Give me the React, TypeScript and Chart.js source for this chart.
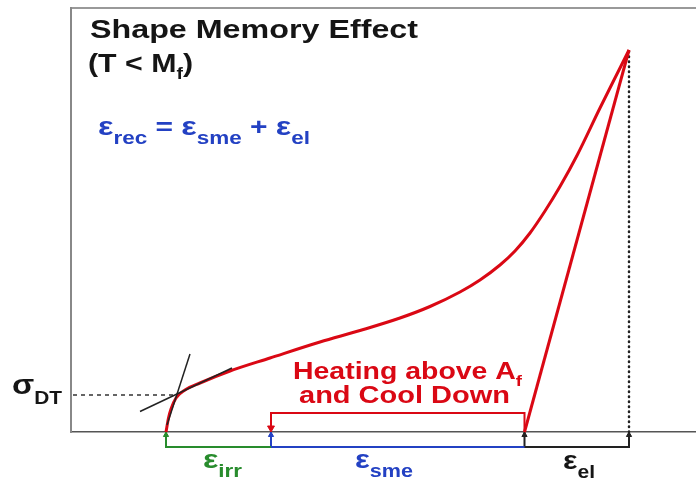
import React, { useEffect, useRef } from "react";
import { Chart, registerables } from "chart.js";

Chart.register(...registerables);

// ---- data (strain %, stress MPa) ----
const loadStrain = [0.95, 0.975, 1.0, 1.05, 1.14, 1.29, 1.59, 1.99, 2.49, 2.89, 3.29, 3.59, 3.89, 4.09, 4.29, 4.44, 4.59, 4.74, 4.89, 5.06, 5.29, 5.49, 5.58];
const loadStress = [0, 28, 46, 68, 84, 98, 122, 148, 180, 203, 228, 251, 280, 304, 334, 362, 398, 442, 491, 553, 648, 728, 764];
const unloadStrain = [5.58, 4.535];
const unloadStress = [764, 0];
const tangentSteepStrain = [1.19, 0.96];
const tangentSteepStress = [156, 14];
const tangentShallowStrain = [0.69, 1.61];
const tangentShallowStress = [41, 128];
const sigmaDT = 74;
const strainIrrStart = 0.95;
const strainSmeStart = 2.0;
const strainElStart = 4.535;
const strainMax = 5.58;
const stressMax = 764;
const bracketLevel = -30;
const heatLevel = 38;

const titleText = "Shape Memory Effect";
const subTitleParts = ["(T < M", "f", ")"];
const eqParts = ["ε", "rec", " = ", "ε", "sme", " + ", "ε", "el"];
const sigmaParts = ["σ", "DT"];
const heatParts = ["Heating above A", "f"];
const coolText = "and Cool Down";
const irrParts = ["ε", "irr"];
const smeParts = ["ε", "sme"];
const elParts = ["ε", "el"];

const RED = "rgb(218,8,20)";
const BLUE = "rgb(35,65,195)";
const GREEN = "rgb(40,140,45)";
const BLACK = "#151515";

const pts = (xs: number[], ys: number[]) => xs.map((x, i) => ({ x, y: ys[i] }));

type Seg = { t: string; s: number; dy?: number };
type Ann = { segs: Seg[]; color: string; x0: number; x1: number; y: number };

const annotations: Ann[] = [
  { segs: [{ t: titleText, s: 25 }], color: BLACK, x0: 0.19, x1: 3.47, y: 789 },
  {
    segs: [
      { t: subTitleParts[0], s: 25 },
      { t: subTitleParts[1], s: 16, dy: 7 },
      { t: subTitleParts[2], s: 25 },
    ],
    color: BLACK, x0: 0.17, x1: 1.22, y: 720,
  },
  {
    segs: [
      { t: eqParts[0], s: 26 }, { t: eqParts[1], s: 18, dy: 9 },
      { t: eqParts[2], s: 24 },
      { t: eqParts[3], s: 26 }, { t: eqParts[4], s: 18, dy: 9 },
      { t: eqParts[5], s: 24 },
      { t: eqParts[6], s: 26 }, { t: eqParts[7], s: 18, dy: 9 },
    ],
    color: BLUE, x0: 0.27, x1: 2.39, y: 594,
  },
  { segs: [{ t: sigmaParts[0], s: 28 }, { t: sigmaParts[1], s: 18, dy: 10 }], color: BLACK, x0: -0.59, x1: -0.09, y: 76 },
  { segs: [{ t: heatParts[0], s: 23 }, { t: heatParts[1], s: 15, dy: 7 }], color: RED, x0: 2.22, x1: 4.51, y: 106 },
  { segs: [{ t: coolText, s: 23 }], color: RED, x0: 2.28, x1: 4.39, y: 58 },
  { segs: [{ t: irrParts[0], s: 26 }, { t: irrParts[1], s: 18, dy: 9 }], color: GREEN, x0: 1.32, x1: 1.71, y: -72 },
  { segs: [{ t: smeParts[0], s: 26 }, { t: smeParts[1], s: 18, dy: 9 }], color: BLUE, x0: 2.84, x1: 3.42, y: -72 },
  { segs: [{ t: elParts[0], s: 26 }, { t: elParts[1], s: 18, dy: 9 }], color: BLACK, x0: 4.92, x1: 5.24, y: -74 },
];

const FONT = '"Liberation Sans", Arial, sans-serif';

const textPlugin = {
  id: "richText",
  afterDatasetsDraw(chart: any) {
    const ctx = chart.ctx as CanvasRenderingContext2D;
    const xs = chart.scales.x;
    const ys = chart.scales.y;
    for (const a of annotations) {
      const left = xs.getPixelForValue(a.x0);
      const right = xs.getPixelForValue(a.x1);
      const base = ys.getPixelForValue(a.y);
      let w = 0;
      for (const s of a.segs) {
        ctx.font = `bold ${s.s}px ${FONT}`;
        w += ctx.measureText(s.t).width;
      }
      const sx = (right - left) / w;
      ctx.save();
      ctx.translate(left, base);
      ctx.scale(sx, 1);
      ctx.fillStyle = a.color;
      ctx.textBaseline = "alphabetic";
      ctx.textAlign = "left";
      let cx = 0;
      for (const s of a.segs) {
        ctx.font = `bold ${s.s}px ${FONT}`;
        ctx.fillText(s.t, cx, s.dy || 0);
        cx += ctx.measureText(s.t).width;
      }
      ctx.restore();
    }
  },
};

export default function App() {
  const ref = useRef<HTMLCanvasElement | null>(null);
  useEffect(() => {
    if (!ref.current) return;
    const lineDs = (data: any[], color: string, width: number, extra: any = {}) => ({
      data,
      showLine: true,
      borderColor: color,
      backgroundColor: color,
      borderWidth: width,
      pointRadius: 0,
      clip: false,
      ...extra,
    });
    const chart = new Chart(ref.current, {
      type: "scatter",
      data: {
        datasets: [
          lineDs(pts(tangentSteepStrain, tangentSteepStress), "#222", 1.5, { order: 0 }),
          lineDs(pts(tangentShallowStrain, tangentShallowStress), "#222", 1.5, { order: 0 }),
          lineDs(pts(loadStrain, loadStress), RED, 3, { cubicInterpolationMode: "monotone", order: 1 }),
          lineDs(pts(unloadStrain, unloadStress), RED, 3, { order: 1 }),
          lineDs(
            [{ x: 0.02, y: sigmaDT }, { x: 1.06, y: sigmaDT }],
            "#333", 1.5, { borderDash: [4, 4], order: 2 }
          ),
          lineDs(
            [{ x: strainMax, y: 0 }, { x: strainMax, y: stressMax }],
            "#222", 2.5, { borderDash: [0.5, 4.5], borderCapStyle: "round", order: 2 }
          ),
          lineDs(
            [{ x: strainIrrStart, y: 0 }, { x: strainIrrStart, y: bracketLevel }, { x: strainSmeStart, y: bracketLevel }],
            GREEN, 2, { order: 3 }
          ),
          lineDs(
            [{ x: strainSmeStart, y: 0 }, { x: strainSmeStart, y: bracketLevel }, { x: strainElStart, y: bracketLevel }],
            BLUE, 2, { order: 3 }
          ),
          lineDs(
            [{ x: strainElStart, y: 0 }, { x: strainElStart, y: bracketLevel }, { x: strainMax, y: bracketLevel }, { x: strainMax, y: 0 }],
            "#222", 2, { order: 3 }
          ),
          lineDs(
            [{ x: strainSmeStart, y: 6 }, { x: strainSmeStart, y: heatLevel }, { x: strainElStart, y: heatLevel }, { x: strainElStart, y: 0 }],
            RED, 2, { order: 3 }
          ),
          {
            data: [
              { x: strainIrrStart, y: -6 },
              { x: strainSmeStart, y: -6 },
              { x: strainElStart, y: -6 },
              { x: strainMax, y: -6 },
            ],
            showLine: false,
            pointStyle: "triangle",
            pointRadius: 3,
            backgroundColor: [GREEN, BLUE, "#222", "#222"],
            borderColor: [GREEN, BLUE, "#222", "#222"],
            borderWidth: 1,
            clip: false,
            order: 3,
          },
          {
            data: [{ x: strainSmeStart, y: 8 }],
            showLine: false,
            pointStyle: "triangle",
            rotation: 180,
            pointRadius: 4,
            backgroundColor: RED,
            borderColor: RED,
            borderWidth: 1,
            clip: false,
            order: 3,
          },
        ] as any,
      },
      options: {
        animation: false,
        responsive: false,
        maintainAspectRatio: false,
        layout: { padding: { left: 71, right: 0, top: 8, bottom: 52 } },
        plugins: { legend: { display: false }, tooltip: { enabled: false }, title: { display: false } },
        scales: {
          x: {
            type: "linear",
            min: 0,
            max: 6.25,
            ticks: { display: false },
            grid: { display: false, drawTicks: false },
            border: { display: true, color: "#555", width: 1.5 },
          },
          xTop: {
            type: "linear",
            position: "top",
            min: 0,
            max: 6.25,
            ticks: { display: false },
            grid: { display: false, drawTicks: false },
            border: { display: true, color: "#999", width: 2 },
          },
          y: {
            type: "linear",
            min: 0,
            max: 848,
            ticks: { display: false },
            grid: { display: false, drawTicks: false },
            border: { display: true, color: "#888", width: 2 },
          },
        },
      } as any,
      plugins: [textPlugin],
    });
    return () => chart.destroy();
  }, []);
  return (
    <div style={{ position: "absolute", left: 0, top: 0, width: 696, height: 484, background: "#fff", overflow: "hidden" }}>
      <canvas ref={ref} width={701} height={484} style={{ width: 701, height: 484, display: "block" }} />
    </div>
  );
}
